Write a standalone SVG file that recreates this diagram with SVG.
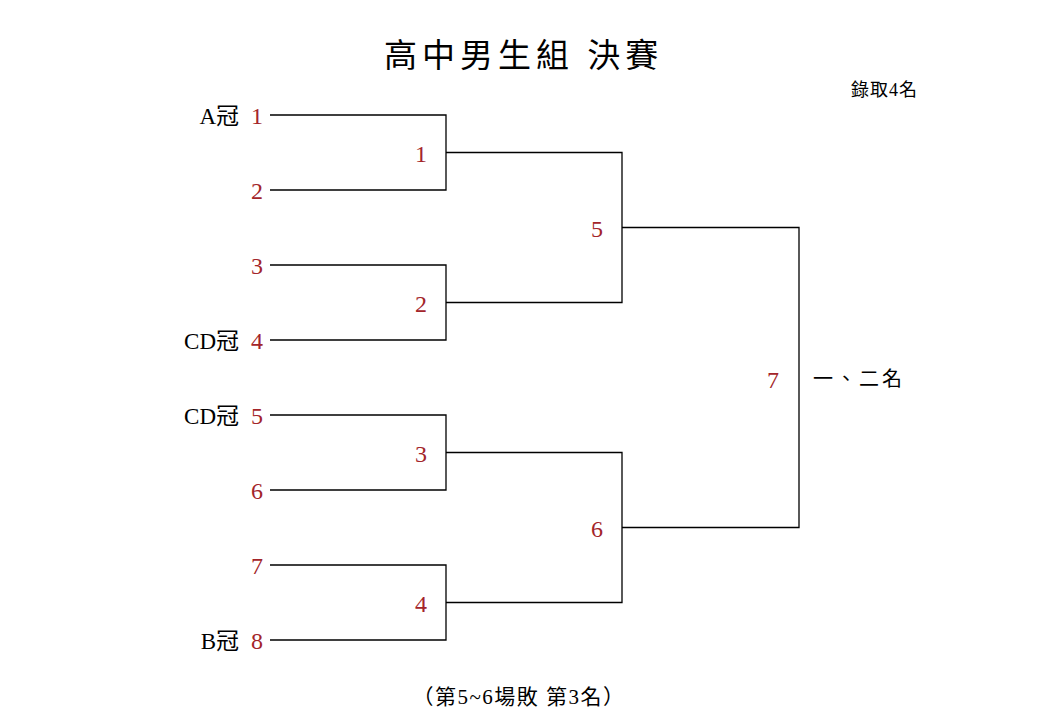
<svg xmlns="http://www.w3.org/2000/svg" width="1040" height="725" viewBox="0 0 1040 725">
<style>
.t{font-family:"Liberation Serif","Noto Sans CJK TC",serif;fill:#000}
.r{font-family:"Liberation Serif","Noto Sans CJK TC",serif;fill:#a3252a;font-size:24px}
.n{font-size:23px}
.c path{fill:none;stroke:#000;stroke-width:1.3}
</style>
<rect width="1040" height="725" fill="#fff"/>
<text class="t" x="384" y="67" font-size="33" letter-spacing="5">高中男生組 決賽</text>
<text class="t" x="918" y="96" font-size="18" text-anchor="end" letter-spacing="1">錄取4名</text>
<g class="c">
<path d="M270 115H446V190H270"/>
<path d="M270 265H446V340H270"/>
<path d="M270 415H446V490H270"/>
<path d="M270 565H446V640H270"/>
<path d="M446 152.5H622V302.5H446"/>
<path d="M446 452.5H622V602.5H446"/>
<path d="M622 227.5H799V527.5H622"/>
</g>
<g id="seeds">
<text class="t n" x="239" y="124" text-anchor="end">A冠</text>
<text class="t n" x="239" y="349" text-anchor="end">CD冠</text>
<text class="t n" x="239" y="424" text-anchor="end">CD冠</text>
<text class="t n" x="239" y="649" text-anchor="end">B冠</text>
<text class="r" x="257" y="124" text-anchor="middle">1</text>
<text class="r" x="257" y="199" text-anchor="middle">2</text>
<text class="r" x="257" y="274" text-anchor="middle">3</text>
<text class="r" x="257" y="349" text-anchor="middle">4</text>
<text class="r" x="257" y="424" text-anchor="middle">5</text>
<text class="r" x="257" y="499" text-anchor="middle">6</text>
<text class="r" x="257" y="574" text-anchor="middle">7</text>
<text class="r" x="257" y="649" text-anchor="middle">8</text>
</g>
<g id="m1"><text class="r" x="421" y="162" text-anchor="middle">1</text></g>
<g id="m2"><text class="r" x="421" y="312" text-anchor="middle">2</text></g>
<g id="m3"><text class="r" x="421" y="462" text-anchor="middle">3</text></g>
<g id="m4"><text class="r" x="421" y="612" text-anchor="middle">4</text></g>
<g id="m5"><text class="r" x="597" y="237" text-anchor="middle">5</text></g>
<g id="m6"><text class="r" x="597" y="537" text-anchor="middle">6</text></g>
<g id="m7"><text class="r" x="773" y="388" text-anchor="middle">7</text></g>
<text class="t" x="813" y="386" font-size="20" letter-spacing="3">一、二名</text>
<text class="t" x="519" y="704" font-size="21" text-anchor="middle" letter-spacing="1.5">（第5~6場敗 第3名）</text>
</svg>
